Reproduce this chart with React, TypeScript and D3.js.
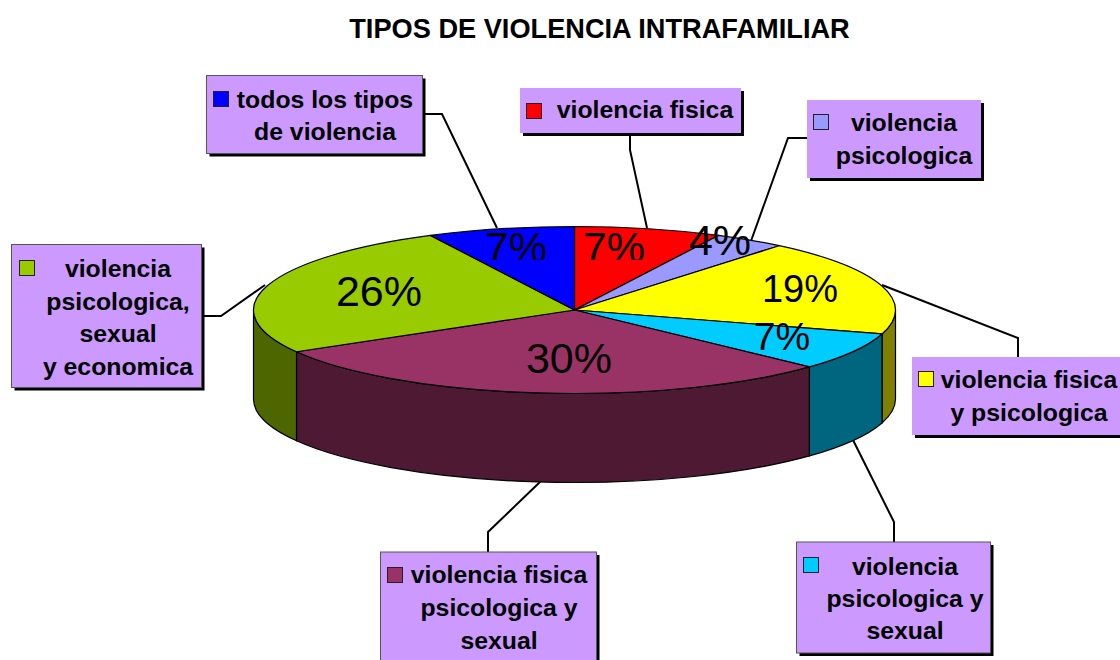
import React from "react";
import * as d3 from "d3";

const sliceNames = [
  "violencia fisica",
  "violencia psicologica",
  "violencia fisica y psicologica",
  "violencia psicologica y sexual",
  "violencia fisica psicologica y sexual",
  "violencia psicologica, sexual y economica",
  "todos los tipos de violencia",
];
const sliceValues = [7.4, 3.6, 18.6, 7.3, 29.7, 25.9, 7.4];
const topColors = ["#FF0000", "#9999FF", "#FFFF00", "#00CCFF", "#993366", "#99CC00", "#0000FF"];
const sideColors = ["#800000", "#4D4D80", "#808000", "#006680", "#4D1933", "#4D6600", "#000080"];

const titleText = "TIPOS DE VIOLENCIA INTRAFAMILIAR";
const FONT = "'Liberation Sans', Arial, sans-serif";
const BOX = "#CC99FF";

const cx = 574.5, cy = 310, rx = 321, ry = 83.5, depth = 89;

// percent label anchors, one per slice (centre x, baseline y, clipped at the chart's inner edge)
const pctX = [614, 720, 800, 782, 569, 379, 516];
const pctY = [262, 255, 302, 350, 373, 306, 262];
const pctSize = [43, 43, 38, 39, 43, 43, 43];
const pctClip = [true, false, false, false, false, false, true];

// legend box layout, one per slice
const boxes = [
  { x: 520, y: 88, w: 221, h: 45, border: false, sx: 526, sy: 103, tx: 645, lines: ["violencia fisica"], base: [118], lead: [[630, 133], [630, 150], [647, 228]] },
  { x: 807, y: 100, w: 174, h: 78, border: false, sx: 813, sy: 114, tx: 904, lines: ["violencia", "psicologica"], base: [131, 164], lead: [[807, 138], [788, 138], [751, 241]] },
  { x: 912, y: 357, w: 212, h: 78, border: false, sx: 918, sy: 371, tx: 1029, lines: ["violencia fisica", "y psicologica"], base: [388, 421], lead: [[1018, 357], [1018, 338], [882, 285]] },
  { x: 796.5, y: 542, w: 194, h: 111, border: true, sx: 803, sy: 557, tx: 905, lines: ["violencia", "psicologica y", "sexual"], base: [575, 607, 639], lead: [[894, 542], [894, 522], [853, 440]] },
  { x: 380.5, y: 552, w: 216, h: 120, border: true, sx: 387, sy: 567, tx: 499, lines: ["violencia fisica", "psicologica y", "sexual"], base: [583, 616, 649], lead: [[488, 552], [488, 532], [541, 481]] },
  { x: 11.5, y: 244.5, w: 190, h: 143, border: true, sx: 19, sy: 260, tx: 118, lines: ["violencia", "psicologica,", "sexual", "y economica"], base: [277, 310, 342, 375], lead: [[202, 316], [221, 316], [265, 285]] },
  { x: 206.5, y: 75.5, w: 216, h: 78, border: true, sx: 213, sy: 91, tx: 325, lines: ["todos los tipos", "de violencia"], base: [108, 140], lead: [[423, 114], [442, 114], [497, 228]] },
];

const px = (a: number) => cx + rx * Math.sin(a);
const py = (a: number, dy = 0) => cy - ry * Math.cos(a) + dy;

function wallPath(a0: number, a1: number) {
  const s = Math.max(a0, Math.PI / 2);
  const e = Math.min(a1, (3 * Math.PI) / 2);
  if (e <= s) return null;
  return (
    `M${px(s)},${py(s)}` +
    `A${rx},${ry} 0 0 1 ${px(e)},${py(e)}` +
    `L${px(e)},${py(e, depth)}` +
    `A${rx},${ry} 0 0 0 ${px(s)},${py(s, depth)}Z`
  );
}

function topPath(a0: number, a1: number) {
  const large = a1 - a0 > Math.PI ? 1 : 0;
  return `M${cx},${cy}L${px(a0)},${py(a0)}A${rx},${ry} 0 ${large} 1 ${px(a1)},${py(a1)}Z`;
}

export default function App() {
  const arcs = d3.pie<number>().sort(null).value((d) => d)(sliceValues);
  const line = d3.line();
  return (
    <svg
      width={1120}
      height={660}
      style={{ position: "absolute", left: 0, top: 0, background: "#fff" }}
      fontFamily={FONT}
    >
      <defs>
        <clipPath id="pctClip">
          <rect x={0} y={0} width={1120} height={260} />
        </clipPath>
      </defs>
      <text x={599.5} y={38} textAnchor="middle" fontSize={27.2} fontWeight="bold" fill="#000">
        {titleText}
      </text>

      {boxes.map((b, i) => (
        <path key={`lead${i}`} d={line(b.lead as [number, number][]) || ""} fill="none" stroke="#000" strokeWidth={2} />
      ))}

      {arcs.map((a, i) => {
        const d = wallPath(a.startAngle, a.endAngle);
        return d ? <path key={`wall${i}`} d={d} fill={sideColors[i]} stroke="#000" strokeWidth={1.2} /> : null;
      })}
      {arcs.map((a, i) => (
        <path key={`top${i}`} d={topPath(a.startAngle, a.endAngle)} fill={topColors[i]} stroke="#000" strokeWidth={1.2} strokeLinejoin="round">
          <title>{sliceNames[i]}</title>
        </path>
      ))}
      {sliceValues.map((v, i) => (
        <text
          key={`pct${i}`}
          x={pctX[i]}
          y={pctY[i]}
          textAnchor="middle"
          fontSize={pctSize[i]}
          fill="#000"
          clipPath={pctClip[i] ? "url(#pctClip)" : undefined}
        >
          {`${Math.round(v)}%`}
        </text>
      ))}

      {boxes.map((b, i) => (
        <g key={`box${i}`}>
          <rect x={b.x + 3} y={b.y + 3} width={b.w} height={b.h} fill="#000" />
          <rect x={b.x} y={b.y} width={b.w} height={b.h} fill={BOX} stroke={b.border ? "#555" : "none"} strokeWidth={1} />
          <rect x={b.sx + 0.5} y={b.sy + 0.5} width={15} height={15} fill={topColors[i]} stroke="#222" strokeWidth={1} />
          {b.lines.map((t, j) => (
            <text key={j} x={b.tx} y={b.base[j]} textAnchor="middle" fontSize={24.8} fontWeight="bold" fill="#000">
              {t}
            </text>
          ))}
        </g>
      ))}
    </svg>
  );
}
